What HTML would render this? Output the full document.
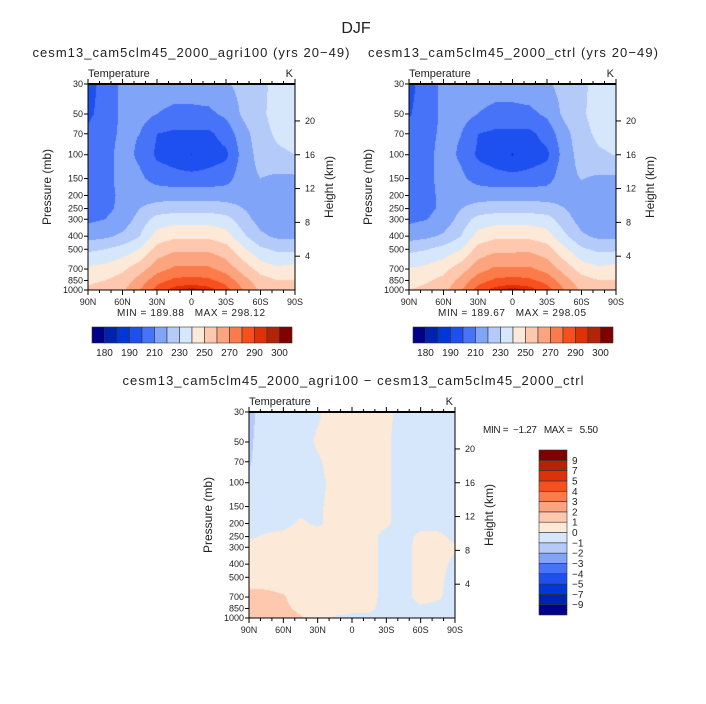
<!DOCTYPE html>
<html><head><meta charset="utf-8">
<style>
html,body{margin:0;padding:0;background:#fff;}
#root{position:relative;width:706px;height:704px;overflow:hidden;font-family:"Liberation Sans",sans-serif;}
canvas{position:absolute;}
svg{position:absolute;left:0;top:0;}
text{font-family:"Liberation Sans",sans-serif;fill:#222;white-space:pre;}
</style></head>
<body>
<div id="root">
<canvas id="c1"></canvas>
<canvas id="c2"></canvas>
<canvas id="c3"></canvas>
<svg id="ov" width="706" height="704"></svg>
</div>
<script>
// ---- data ----
const lats = [90,75,60,45,30,15,0,-15,-30,-45,-60,-75,-90];
const levels = [30,50,70,100,150,200,250,300,400,500,700,850,1000];
const agriT = [
[196,204,212,214,214,214,214,216,219,223,227,234,236],
[198,204,212,214,210,208,208,208,212,222,228,234,236],
[202,206,212,210,200,198,198,198,204,216,226,232,234],
[204,206,214,208,198,195,189.9,195,198,214,224,228,230],
[204,206,214,212,206,204,204,204,206,216,220,218,218],
[206,207,212,216,216,216,216,216,216,216,215,214,214],
[206,208,212,220,224,226,226,226,224,220,215,214,214],
[208,210,214,224,234,236,236,236,234,224,216,214,214],
[216,218,222,230,244,248,248,248,244,232,222,218,218],
[228,230,234,240,254,258,258,258,254,242,232,228,228],
[242,244,248,256,266,272,272,272,266,256,246,242,244],
[248,250,254,264,276,282,284,282,276,264,254,250,250],
[252,254,258,270,284,294,298,294,284,270,258,256,256]];
const diffT = [
[-1.3,-0.5,-0.4,-0.3,-0.1,0.3,0.4,0.3,0.2,-0.3,-0.4,-0.4,-0.4],
[-1.2,-0.4,-0.4,-0.3,0.1,0.3,0.4,0.3,0.1,-0.3,-0.4,-0.4,-0.4],
[-1.1,-0.4,-0.4,-0.3,-0.1,0.3,0.4,0.3,0.1,-0.3,-0.4,-0.4,-0.4],
[-0.9,-0.4,-0.4,-0.3,-0.2,0.2,0.4,0.3,0.1,-0.3,-0.4,-0.4,-0.4],
[-0.6,-0.4,-0.3,-0.2,-0.1,0.2,0.3,0.3,0.1,-0.3,-0.4,-0.4,-0.4],
[-0.5,-0.3,-0.2,0.1,-0.1,0.2,0.3,0.2,0.1,-0.3,-0.3,-0.3,-0.3],
[-0.1,0.1,0.2,0.3,0.3,0.3,0.3,0.2,-0.2,-0.3,0.2,0.2,-0.2],
[0.2,0.3,0.3,0.3,0.3,0.3,0.3,0.2,-0.2,-0.3,0.3,0.3,0.1],
[0.3,0.3,0.3,0.3,0.3,0.3,0.3,0.2,-0.2,-0.3,0.3,0.3,-0.2],
[0.6,0.5,0.4,0.3,0.3,0.3,0.3,0.2,-0.2,-0.3,0.3,0.2,-0.3],
[1.3,1.3,1.1,0.5,0.3,0.3,0.3,0.2,-0.2,-0.2,0.2,0.1,-0.3],
[1.4,1.3,1.2,0.8,0.4,0.3,0.1,0.1,-0.2,-0.2,-0.1,-0.2,-0.3],
[2.1,1.6,1.4,1.1,0.5,-0.1,-0.1,-0.1,-0.2,-0.2,-0.2,-0.3,-0.3]];
const tBounds = [180,185,190,200,210,220,230,240,250,260,270,280,290,295,300];
const tLabels = ["180","190","210","230","250","270","290","300"];
const dBounds = [-9,-7,-5,-4,-3,-2,-1,0,1,2,3,4,5,7,9];
const dLabels = ["−9","−7","−5","−4","−3","−2","−1","0","1","2","3","4","5","7","9"];
const pTicks = [30,50,70,100,150,200,250,300,400,500,700,850,1000];
const zTicks = [4,8,12,16,20];
const latTicks = [90,60,30,0,-30,-60,-90];
const latLabels = ["90N","60N","30N","0","30S","60S","90S"];
const palette = ["#00008a","#0022b0","#0038d8","#1e50f0","#4673f8","#80a4f8","#b4cbfa","#d6e7fb","#fde9d8","#fdc8ae","#fca47e","#fb7b4a","#f84f1e","#de3108","#b32306","#800000"];

const ctrlT = agriT.map((r,i)=>r.map((v,j)=>v - diffT[i][j]));

// ---- helpers ----
const svg = document.getElementById('ov');
const NS='http://www.w3.org/2000/svg';
function mk(tag, attrs, parent){const e=document.createElementNS(NS,tag);for(const k in attrs)e.setAttribute(k,attrs[k]);(parent||svg).appendChild(e);return e;}
function txt(x,y,s,size,anchor,extra){const t=mk('text',Object.assign({x:x,y:y,'font-size':size,'text-anchor':anchor||'start'},extra||{}));t.textContent=s;return t;}

function makeAxes(x0,y0,w,h){
  const lp0=Math.log(30), lp1=Math.log(1000);
  return {
    x:lat=>x0+(90-lat)/180*w,
    y:p=>y0+(Math.log(p)-lp0)/(lp1-lp0)*h,
    latAt:px=>90-(px-x0)/w*180,
    pAt:py=>Math.exp(lp0+(py-y0)/h*(lp1-lp0)),
    x0,y0,w,h
  };
}
function sample(grid,lat,p){
  let j=0; while(j<lats.length-2 && lat<lats[j+1]) j++;
  const fx=Math.min(1,Math.max(0,(lats[j]-lat)/(lats[j]-lats[j+1])));
  const lp=Math.log(p);
  let i=0; while(i<levels.length-2 && p>levels[i+1]) i++;
  const a=Math.log(levels[i]),b=Math.log(levels[i+1]);
  const fy=Math.min(1,Math.max(0,(lp-a)/(b-a)));
  const v00=grid[i][j],v01=grid[i][j+1],v10=grid[i+1][j],v11=grid[i+1][j+1];
  return (v00*(1-fx)+v01*fx)*(1-fy)+(v10*(1-fx)+v11*fx)*fy;
}
function bin(v,bounds){let k=0;while(k<bounds.length&&v>=bounds[k])k++;return k;}
function hex(c){return [parseInt(c.substr(1,2),16),parseInt(c.substr(3,2),16),parseInt(c.substr(5,2),16)];}
const rgb = palette.map(hex);

function drawField(id,grid,bounds,ax){
  const c=document.getElementById(id);
  c.width=ax.w;c.height=ax.h;c.style.left=ax.x0+'px';c.style.top=ax.y0+'px';
  const ctx=c.getContext('2d');const im=ctx.createImageData(ax.w,ax.h);
  for(let yy=0;yy<ax.h;yy++){const p=ax.pAt(ax.y0+yy+0.5);
    for(let xx=0;xx<ax.w;xx++){const lat=ax.latAt(ax.x0+xx+0.5);
      const col=rgb[bin(sample(grid,lat,p),bounds)];const o=(yy*ax.w+xx)*4;
      im.data[o]=col[0];im.data[o+1]=col[1];im.data[o+2]=col[2];im.data[o+3]=255;}}
  ctx.putImageData(im,0,0);
}

function drawFrame(ax,name){
  const g=mk('g',{});
  
  
  mk('rect',{x:ax.x0,y:ax.y0,width:ax.w,height:ax.h,fill:'none',stroke:'#000','stroke-width':1},g);
  mk('line',{x1:ax.x0,y1:ax.y0,x2:ax.x0+ax.w,y2:ax.y0,stroke:'#000','stroke-width':2},g);
  pTicks.forEach(p=>{const y=ax.y(p);
    mk('line',{x1:ax.x0-4,y1:y,x2:ax.x0,y2:y,stroke:'#000'},g);
    const t=txt(ax.x0-5,y+3,String(p),9,'end');g.appendChild(t);
    });
  zTicks.forEach(z=>{const y=ax.y(1000*Math.exp(-z/6.95));
    mk('line',{x1:ax.x0+ax.w,y1:y,x2:ax.x0+ax.w+5,y2:y,stroke:'#000'},g);
    const t=txt(ax.x0+ax.w+10,y+3,String(z),9,'start');g.appendChild(t);
    });
  for(let lat=90;lat>=-90;lat-=10){const x=ax.x(lat);const major=lat%30===0;
    mk('line',{x1:x,y1:ax.y0+ax.h,x2:x,y2:ax.y0+ax.h+(major?5:3),stroke:'#000'},g);
    mk('line',{x1:x,y1:ax.y0,x2:x,y2:ax.y0-(major?5:3),stroke:'#000'},g);}
  latTicks.forEach((lat,i)=>{const t=txt(ax.x(lat),ax.y0+ax.h+15,latLabels[i],9,'middle');g.appendChild(t);
    });
  const tt=txt(ax.x0,ax.y0-7,'Temperature',11,'start');g.appendChild(tt);
  
  const tk=txt(ax.x0+ax.w-2,ax.y0-7,'K',11,'end');g.appendChild(tk);
  
  const cy=ax.y0+ax.h/2;
  const yl=txt(0,0,'Pressure (mb)',12,'middle',{transform:'translate('+(ax.x0-37)+','+cy+') rotate(-90)'});g.appendChild(yl);
  
  const zl=txt(0,0,'Height (km)',12,'middle',{transform:'translate('+(ax.x0+ax.w+38)+','+cy+') rotate(-90)'});g.appendChild(zl);
  
}

function hBar(x0,y0,w,h,labels){
  const g=mk('g',{});
  
  
  const bw=w/palette.length;
  palette.forEach((c,i)=>{const r=mk('rect',{x:x0+i*bw,y:y0,width:bw,height:h,fill:c,stroke:'#333','stroke-width':0.6},g);
    });
  labels.forEach((s,i)=>{const t=txt(x0+(1+2*i)*bw,y0+h+13,s,10,'middle');g.appendChild(t);
    });
}
function vBar(x0,y0,w,h,labels){
  const g=mk('g',{});
  
  
  const bh=h/palette.length;
  palette.forEach((c,i)=>{const r=mk('rect',{x:x0,y:y0+h-(i+1)*bh,width:w,height:bh,fill:c,stroke:'#333','stroke-width':0.6},g);
    });
  labels.forEach((s,i)=>{const t=txt(x0+w+5,y0+h-(i+1)*bh+3.5,s,10,'start');g.appendChild(t);
    });
}

// ---- panels ----
const ax1=makeAxes(88,84,207,206);
const ax2=makeAxes(409,84,207,206);
const ax3=makeAxes(249,412,206,206);
drawField('c1',agriT,tBounds,ax1);
drawField('c2',ctrlT,tBounds,ax2);
drawField('c3',diffT,dBounds,ax3);
drawFrame(ax1,'agri100');
drawFrame(ax2,'ctrl');
drawFrame(ax3,'difference');

const t0=txt(356,33,'DJF',16,'middle',{fill:'#555'});

const t1=txt(191,57,'cesm13_cam5clm45_2000_agri100 (yrs 20\u221249)',13,'middle',{textLength:317});

const t2=txt(513,57,'cesm13_cam5clm45_2000_ctrl (yrs 20\u221249)',13,'middle',{textLength:290});

const m1=txt(191,316,'MIN = 189.88   MAX = 298.12',10,'middle',{textLength:148});

const m2=txt(512,316,'MIN = 189.67   MAX = 298.05',10,'middle',{textLength:148});

hBar(92,327,200,16,tLabels);
hBar(413,327,200,16,tLabels);
const t3=txt(353,385,'cesm13_cam5clm45_2000_agri100 \u2212 cesm13_cam5clm45_2000_ctrl',13,'middle',{textLength:461});

const m3=txt(483,433,'MIN =  \u22121.27   MAX =   5.50',10,'start',{textLength:115});

vBar(539,450,28,165,dLabels);
</script>
</body></html>
